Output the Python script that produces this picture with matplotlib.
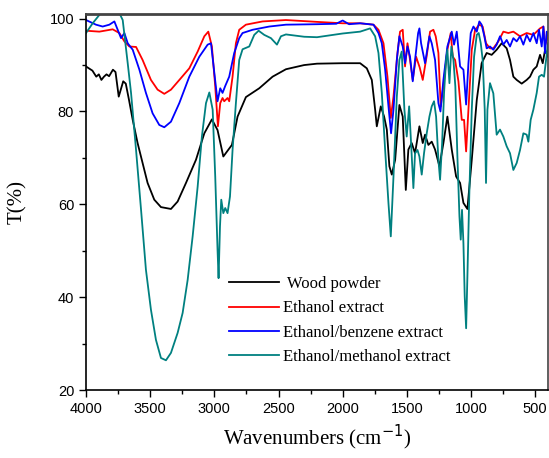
import matplotlib
matplotlib.use("Agg")
import matplotlib.pyplot as plt
from matplotlib.ticker import MultipleLocator

# ---- data ----
wood_x = [4000, 3950, 3920, 3900, 3880, 3860, 3840, 3820, 3790, 3770, 3745, 3710, 3690, 3665,
          3636, 3598, 3559, 3520, 3468, 3416, 3338, 3286, 3221, 3143, 3078, 3019, 2975, 2930,
          2863, 2819, 2754, 2650, 2546, 2442, 2300, 2200, 2000, 1864, 1812, 1773, 1747, 1734,
          1703, 1677, 1656, 1636, 1617, 1591, 1558, 1532, 1508, 1488, 1462, 1436, 1402, 1376,
          1358, 1332, 1306, 1280, 1246, 1215, 1184, 1150, 1116, 1085, 1059, 1028, 994, 955,
          917, 878, 839, 800, 761, 722, 696, 670, 644, 605, 566, 540, 514, 488, 462, 441, 423, 400]
wood_y = [89.7, 88.8, 87.5, 88.0, 86.8, 87.5, 88.0, 87.6, 89.0, 88.5, 83.2, 86.5, 86.0, 82.5,
          78.2, 73.2, 68.9, 64.6, 61.0, 59.4, 59.0, 60.6, 64.6, 69.6, 75.3, 78.3, 76.0, 70.3,
          72.8, 78.9, 83.1, 85.0, 87.5, 89.1, 90.0, 90.3, 90.4, 90.4, 89.3, 86.8, 80.4, 76.8,
          81.1, 78.9, 76.1, 68.2, 66.4, 69.6, 81.4, 78.9, 63.1, 71.8, 73.2, 71.0, 76.8, 73.2,
          75.0, 72.8, 73.5, 71.8, 68.2, 73.2, 78.9, 71.8, 66.0, 64.6, 60.3, 59.0, 69.6, 82.5,
          90.4, 92.6, 92.2, 93.3, 94.7, 93.6, 91.1, 87.5, 86.8, 86.0, 86.8, 87.5, 89.0, 89.7,
          92.2, 90.4, 93.3, 91.8]

eth_x = [4000, 3896, 3792, 3740, 3701, 3662, 3610, 3559, 3494, 3442, 3390, 3338, 3260, 3195,
         3130, 3078, 3047, 3019, 2993, 2972, 2954, 2936, 2923, 2897, 2884, 2858, 2832, 2806,
         2754, 2624, 2442, 2200, 2000, 1864, 1760, 1721, 1682, 1651, 1625, 1604, 1573, 1553,
         1532, 1514, 1495, 1475, 1454, 1428, 1400, 1376, 1345, 1319, 1293, 1275, 1254, 1236,
         1215, 1184, 1158, 1142, 1124, 1098, 1072, 1054, 1038, 1020, 994, 968, 935, 909, 883,
         852, 826, 787, 748, 709, 670, 618, 566, 514, 462, 436, 421, 400]
eth_y = [97.4, 97.2, 97.7, 96.9, 95.1, 94.0, 93.9, 91.1, 86.8, 84.7, 83.8, 84.7, 87.2, 89.3,
         92.9, 96.2, 97.2, 94.0, 85.4, 76.8, 81.8, 82.9, 82.2, 82.9, 82.2, 87.5, 94.7, 97.6,
         98.7, 99.4, 99.7, 99.3, 99.0, 99.0, 98.7, 97.6, 94.7, 87.5, 78.6, 83.2, 92.6, 97.2,
         97.6, 89.7, 94.7, 91.1, 86.8, 91.8, 89.5, 86.8, 92.0, 97.2, 97.6, 96.2, 92.6, 81.1,
         85.5, 93.3, 96.9, 91.8, 91.1, 86.5, 78.2, 78.2, 71.4, 80.4, 93.3, 97.6, 98.7, 98.3,
         94.7, 93.6, 93.6, 95.1, 97.2, 96.9, 97.2, 96.2, 96.9, 96.5, 97.9, 98.3, 94.4, 96.2]

benz_x = [4000, 3922, 3870, 3818, 3779, 3753, 3727, 3701, 3675, 3636, 3584, 3533, 3481, 3429,
          3390, 3338, 3273, 3195, 3117, 3052, 3026, 3000, 2975, 2954, 2936, 2915, 2884, 2845,
          2806, 2780, 2702, 2572, 2442, 2200, 2050, 2000, 1950, 1864, 1760, 1721, 1695, 1669,
          1643, 1623, 1604, 1578, 1558, 1532, 1514, 1495, 1475, 1454, 1436, 1412, 1402, 1389,
          1358, 1324, 1306, 1280, 1254, 1238, 1215, 1184, 1150, 1132, 1111, 1085, 1059, 1038,
          1020, 1002, 981, 955, 935, 917, 896, 878, 852, 826, 800, 774, 748, 722, 696, 670,
          644, 618, 592, 566, 540, 514, 488, 470, 449, 436, 423, 410, 400]
benz_y = [99.7, 98.7, 98.3, 98.7, 99.4, 97.6, 95.8, 96.9, 94.7, 93.3, 89.0, 84.0, 79.6, 77.1,
          76.6, 77.8, 81.8, 87.5, 91.8, 94.4, 94.7, 88.3, 82.2, 85.0, 84.0, 85.5, 87.5, 92.6,
          95.8, 96.9, 97.6, 98.3, 98.7, 98.8, 98.9, 99.6, 98.8, 99.0, 98.7, 96.9, 94.7, 89.0,
          81.1, 75.3, 80.4, 91.1, 96.2, 94.0, 90.4, 94.0, 91.8, 86.5, 91.1, 96.9, 97.9, 94.7,
          90.4, 96.2, 94.7, 91.1, 81.8, 80.0, 86.8, 94.0, 97.2, 94.4, 97.2, 89.7, 89.0, 81.5,
          90.4, 96.9, 98.3, 97.2, 99.4, 98.7, 96.2, 93.6, 94.0, 93.3, 94.4, 96.2, 94.4, 95.4,
          94.0, 95.8, 95.1, 96.2, 94.4, 96.5, 95.1, 96.9, 94.7, 97.6, 94.0, 98.3, 92.6, 97.2, 96.5]

meth_x = [4000, 3948, 3896, 3870, 3800, 3740, 3714, 3693, 3675, 3649, 3610, 3571, 3533, 3494,
          3455, 3416, 3377, 3338, 3286, 3247, 3208, 3169, 3130, 3097, 3065, 3039, 3013, 2993,
          2975, 2967, 2956, 2946, 2930, 2915, 2897, 2878, 2858, 2832, 2806, 2780, 2728, 2689,
          2655, 2611, 2559, 2512, 2481, 2442, 2300, 2200, 2000, 1864, 1786, 1747, 1721, 1695,
          1669, 1643, 1625, 1604, 1578, 1558, 1540, 1519, 1501, 1482, 1467, 1449, 1436, 1417,
          1402, 1384, 1366, 1345, 1324, 1306, 1288, 1272, 1254, 1241, 1225, 1210, 1194, 1184,
          1168, 1153, 1137, 1122, 1106, 1090, 1080, 1070, 1059, 1049, 1038, 1028, 1013, 994,
          976, 955, 940, 924, 909, 893, 883, 872, 852, 826, 800, 774, 748, 722, 696, 670, 644,
          618, 592, 566, 553, 535, 514, 488, 470, 449, 431, 415, 400]
meth_y = [96.9, 99.0, 100.8, 101.5, 102.5, 101.2, 99.7, 94.7, 90.4, 84.0, 71.7, 58.8, 45.9, 37.3,
          30.8, 26.9, 26.4, 28.0, 32.3, 36.6, 43.7, 53.1, 63.8, 74.6, 81.8, 84.1, 80.4, 66.0,
          50.2, 44.1, 55.2, 61.0, 58.1, 59.2, 58.1, 61.7, 71.7, 81.8, 91.1, 93.4, 94.0, 96.5,
          97.4, 96.5, 95.8, 94.4, 96.2, 96.6, 96.1, 96.0, 96.8, 97.2, 97.9, 96.2, 92.6, 84.0,
          71.7, 60.2, 53.1, 66.0, 83.2, 91.1, 92.9, 80.4, 74.6, 81.1, 73.2, 63.5, 71.0, 71.7,
          70.3, 66.4, 71.0, 75.3, 78.9, 81.1, 82.2, 78.9, 69.6, 65.3, 73.2, 84.0, 91.1, 93.3,
          86.1, 94.0, 91.1, 85.4, 70.3, 57.4, 52.4, 58.8, 51.6, 40.2, 33.3, 44.5, 62.4, 80.4,
          91.8, 96.5, 96.9, 94.7, 91.1, 80.4, 64.6, 80.4, 86.1, 83.9, 75.0, 76.1, 74.6, 72.5,
          71.0, 67.4, 68.9, 71.7, 75.3, 75.0, 73.5, 78.2, 80.4, 84.0, 87.5, 87.9, 87.5, 91.1, 94.7]

labels = [" Wood powder", "Ethanol extract", "Ethanol/benzene extract", "Ethanol/methanol extract"]
colors = ["#000000", "#ff0000", "#0000ff", "#008080"]

x_ticks = [4000, 3500, 3000, 2500, 2000, 1500, 1000, 500]
y_ticks = [20, 40, 60, 80, 100]

# ---- figure ----
fig = plt.figure(figsize=(5.49, 4.58), dpi=100)
ax = fig.add_axes([86 / 549, 1 - 390 / 458, (548 - 86) / 549, (390 - 14) / 458])

series = [(wood_x, wood_y), (eth_x, eth_y), (benz_x, benz_y), (meth_x, meth_y)]
for (xs, ys), lab, c in zip(series, labels, colors):
    ax.plot(xs, ys, color=c, lw=1.3, label=lab)

ax.set_xlim(4000, 400)
ax.set_ylim(20, 101)
ax.set_xticks(x_ticks)
ax.set_yticks(y_ticks)
ax.xaxis.set_minor_locator(MultipleLocator(250))
ax.yaxis.set_minor_locator(MultipleLocator(10))
ax.tick_params(which="both", direction="out", top=False, right=False, width=1.0,
               labelsize=10.5, labelfontfamily="Liberation Sans")
ax.tick_params(which="major", length=5)
ax.tick_params(which="minor", length=3)
for s in ax.spines.values():
    s.set_linewidth(1.2)
ax.spines["top"].set_color("#444444")
ax.spines["right"].set_color("#444444")
ax.spines["top"].set_linewidth(2)

ax.set_xlabel("Wavenumbers (cm$^{-1}$)", fontfamily="Liberation Serif", fontsize=15, labelpad=5)
ax.set_ylabel("T(%)", fontfamily="Liberation Serif", fontsize=15, labelpad=16)

leg = ax.legend(loc="upper left", bbox_to_anchor=(0.278, 0.343), frameon=False,
                prop={"family": "Liberation Serif", "size": 12},
                handlelength=3.0, handletextpad=0.2, labelspacing=0.5)

fig.savefig("out.png", dpi=100)
